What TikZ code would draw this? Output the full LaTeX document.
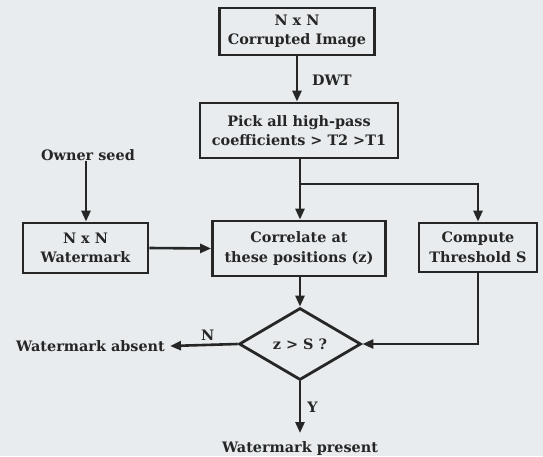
\documentclass[tikz,border=0pt]{standalone}
\usepackage{fontspec}
\setmainfont{DejaVu Serif}
\usetikzlibrary{shapes.geometric,arrows.meta}
\definecolor{bg}{HTML}{E8ECEE}
\definecolor{ink}{HTML}{262626}
\begin{document}
\begin{tikzpicture}[x=1pt,y=-1pt,
  every node/.style={font=\bfseries\fontsize{14.4}{19.5}\selectfont, text=ink, align=center},
  box/.style={draw=ink, line width=2.8pt, rectangle, inner sep=0pt},
  lbl/.style={inner sep=0pt},
  arr/.style={draw=ink, line width=2.6pt, -{Triangle[length=11pt,width=9pt]}},
  ln/.style={draw=ink, line width=2.6pt}]
\fill[bg] (0,0) rectangle (543,456);
\useasboundingbox (0,0) rectangle (543,456);

\node[box, minimum width=155pt, minimum height=47pt] (img) at (297,31.5) {N x N\\Corrupted Image};
\node[box, minimum width=198pt, minimum height=55pt] (pick) at (299,130.5) {Pick all high-pass\\coefficients {>} T2 {>}T1};
\node[box, minimum width=125pt, minimum height=50pt] (wm) at (85.5,248) {N x N\\Watermark};
\node[box, minimum width=173pt, minimum height=55pt] (cor) at (299,248.5) {Correlate at\\these positions (z)};
\node[box, minimum width=118pt, minimum height=49pt] (thr) at (478,247.5) {Compute\\Threshold S};
\node[draw=ink, line width=2.8pt, diamond, inner sep=0pt, minimum width=122pt, minimum height=72pt] (dec) at (300,344) {z {>} S ?};

\node[lbl] (seed) at (88,155) {Owner seed};
\node[lbl, anchor=east] (absent) at (165,346) {Watermark absent};
\node[lbl, anchor=north] (present) at (300,441) {Watermark present};
\node[lbl, anchor=west] (dwt) at (312,80) {DWT};

\coordinate (j) at (300,184);

\draw[arr] (img.south) -- (img.south |- pick.north);
\draw[ln] (pick.south -| j) -- (j);
\draw[arr] (j) -- (j |- cor.north);
\draw[arr] (j) -- (j -| thr.north) -- (thr.north);
\draw[arr] (seed.south -| 86,0) -- (86,0 |- wm.north);
\draw[arr] (wm.east) -- (cor.west);
\draw[arr] (cor.south -| dec.north) -- (dec.north);
\draw[arr] (thr.south) -- (thr.south |- dec.east) -- (dec.east);
\draw[arr] (dec.west) -- ([xshift=5pt]absent.east) node[lbl, midway, above=3pt, xshift=4pt] (n) {N};
\draw[arr] (dec.south) -- ([yshift=8pt]present.north) node[lbl, midway, right=6pt] (y) {Y};
\end{tikzpicture}
\end{document}
